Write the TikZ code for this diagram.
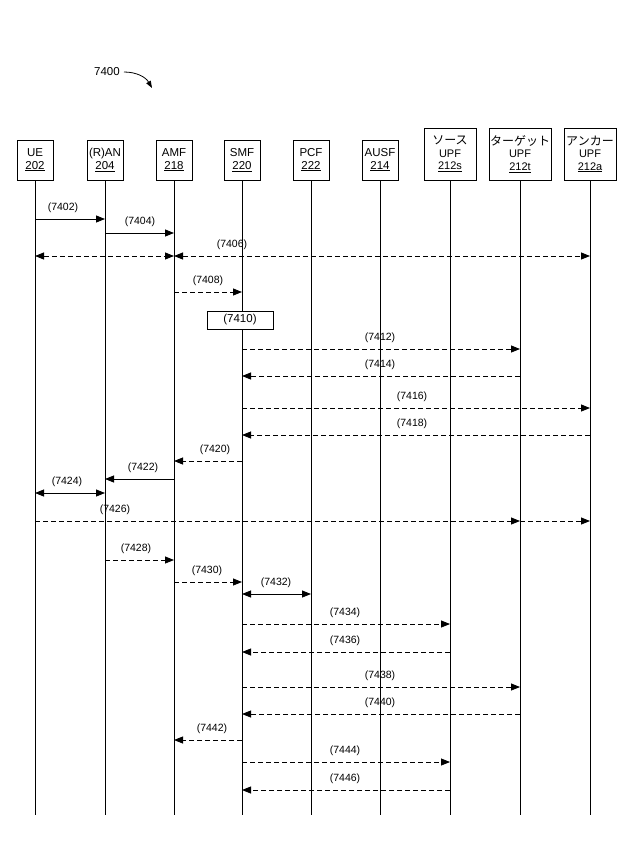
\documentclass[tikz,border=0pt]{standalone}
\usepackage{fontspec}
\setmainfont{Liberation Sans}
\newfontfamily\jp{Noto Sans CJK JP}
\usetikzlibrary{arrows.meta}
\begin{document}
\begin{tikzpicture}[x=1pt,y=-1pt,
  hdr/.style={draw,thick,fill=white,align=center,font=\fontsize{11.5}{12.5}\selectfont,inner sep=1.5pt},
  lbl/.style={font=\fontsize{10.5}{11}\selectfont,inner sep=1pt},
  msg/.style={thick,-{Triangle[length=9pt,width=7pt]}},
  bmsg/.style={thick,{Triangle[length=9pt,width=7pt]}-{Triangle[length=9pt,width=7pt]}},
  dsh/.style={dash pattern=on 5pt off 3pt}]
\useasboundingbox (0,0) rectangle (640,859);
\node[lbl,font=\fontsize{11.5}{12}\selectfont] (t) at (107,72) {7400};
\coordinate (te) at (152,88);
\draw[thick,-{Triangle[length=7pt,width=5pt]}] (t.east) ++(3,0) to[out=0,in=120] (te);
\def\ybot{815}
\foreach \n/\x/\a/\b in {ue/35/UE/202, ran/105/(R)AN/204, amf/174/AMF/218, smf/242/SMF/220, pcf/311/PCF/222, ausf/380/AUSF/214}{
  \node[hdr,minimum width=36pt,minimum height=40pt] (\n) at (\x,160) {\a\\\underline{\b}};
  \coordinate (\n b) at (\x,\ybot);
  \draw (\n.south) -- (\n b);
}
\foreach \n/\x/\a/\b in {src/450/ソース/212s, tgt/520/ターゲット/212t, anc/590/アンカー/212a}{
  \node[hdr,minimum width=52pt,minimum height=52pt,inner sep=1pt,font=\fontsize{11}{12.5}\selectfont] (\n) at (\x,154) {{\jp\fontsize{12}{13}\selectfont\a}\\UPF\\\underline{\b}};
  \coordinate (\n b) at (\x,\ybot);
  \draw (\n.south) -- (\n b);
}
\newcommand\ms[6]{% style, from x, to x, y, label, label x
  \coordinate (p1) at (#2,#4); \coordinate (p2) at (#3,#4);
  \draw[#1] (p1) -- (p2);
  \node[lbl] at (#6,#4-11) {#5};}
\ms{msg}{35}{105}{219}{(7402)}{63}
\ms{msg}{105}{174}{233}{(7404)}{140}
\ms{bmsg,dsh}{35}{174}{256}{}{0}
\ms{bmsg,dsh}{174}{590}{256}{(7406)}{232}
\ms{msg,dsh}{174}{242}{292}{(7408)}{208}
\node[hdr,minimum width=66pt,minimum height=18pt] (b7410) at (240,320) {(7410)};
\ms{msg,dsh}{242}{520}{349}{(7412)}{380}
\draw (380,343) -- (380,355);
\ms{msg,dsh}{520}{242}{376}{(7414)}{380}
\ms{msg,dsh}{242}{590}{408}{(7416)}{412}
\ms{msg,dsh}{590}{242}{435}{(7418)}{412}
\ms{msg,dsh}{242}{174}{461}{(7420)}{215}
\ms{msg}{174}{105}{479}{(7422)}{143}
\ms{bmsg}{35}{105}{493}{(7424)}{67}
\ms{msg,dsh}{35}{520}{521}{(7426)}{115}
\ms{msg,dsh}{520}{590}{521}{}{0}
\ms{msg,dsh}{105}{174}{560}{(7428)}{136}
\ms{msg,dsh}{174}{242}{582}{(7430)}{207}
\ms{bmsg}{242}{311}{594}{(7432)}{276}
\ms{msg,dsh}{242}{450}{624}{(7434)}{345}
\ms{msg,dsh}{450}{242}{652}{(7436)}{345}
\ms{msg,dsh}{242}{520}{687}{(7438)}{380}
\ms{msg,dsh}{520}{242}{714}{(7440)}{380}
\ms{msg,dsh}{242}{174}{740}{(7442)}{212}
\ms{msg,dsh}{242}{450}{762}{(7444)}{345}
\ms{msg,dsh}{450}{242}{790}{(7446)}{345}
\end{tikzpicture}
\end{document}
